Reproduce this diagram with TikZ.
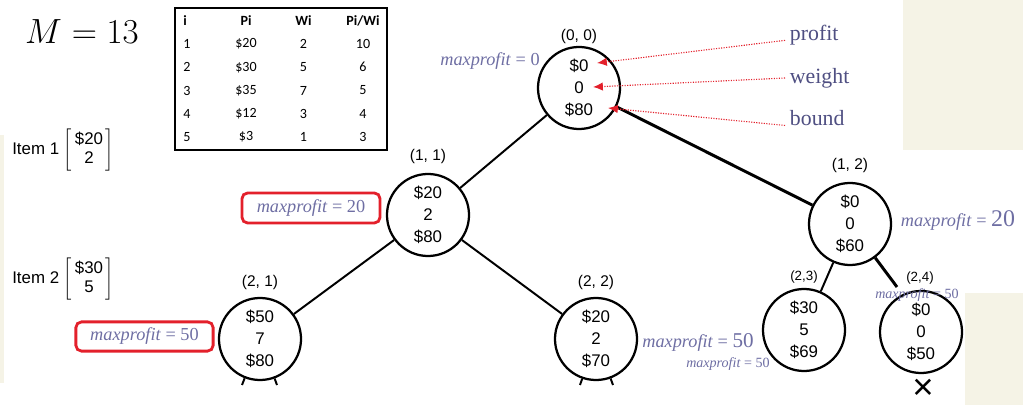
\documentclass[tikz,border=0pt]{standalone}
\usepackage{fontspec}
\setsansfont{Liberation Sans}
\newfontfamily\notefont{Liberation Serif}
\newfontfamily\tablefont{Carlito}
\usetikzlibrary{arrows.meta,positioning}

\definecolor{mpblue}{HTML}{6E6EA3}
\definecolor{tagblue}{HTML}{4F4F82}
\definecolor{boxred}{HTML}{E3202B}
\definecolor{paper}{HTML}{F5F3E6}

\begin{document}
\begin{tikzpicture}[x=0.025cm, y=-0.025cm,
  state/.style={circle, draw, line width=1.6pt, minimum size=2.05cm, inner sep=0pt,
    align=center, font=\sffamily\fontsize{12}{15.5}\selectfont},
  branch/.style={line width=1.4pt},
  heavy/.style={line width=2.1pt},
  coord/.style={font=\sffamily\fontsize{11}{13}\selectfont, inner sep=1pt},
  mp/.style={text=mpblue, font=\notefont\fontsize{13}{15}\selectfont, inner sep=1pt},
  mpsmall/.style={mp, font=\notefont\fontsize{10}{12}\selectfont},
  flagbox/.style={draw=boxred, line width=2pt, rounded corners=4pt},
  tag/.style={text=tagblue, font=\notefont\fontsize{15.5}{18}\selectfont, anchor=west},
  pointer/.style={boxred, densely dotted, line width=0.8pt, -{Latex[length=7pt,width=6pt]}},
  cell/.style={font=\tablefont\fontsize{10}{12}\selectfont, inner sep=0pt},
  itemlbl/.style={font=\sffamily\fontsize{12}{14}\selectfont, anchor=west, inner sep=0pt}
]
\useasboundingbox (0,0) rectangle (1023,405);

% background patches of the slide
\fill[paper] (903,0) rectangle (1023,150);
\fill[paper] (965,293) rectangle (1023,405);
\fill[paper] (0,135) rectangle (4,383);

% capacity and item table
\node (budget) at (82,32) {\fontsize{24}{28}\selectfont $M = 13$};

\node[draw, line width=0.8pt, minimum width=5.3cm, minimum height=3.55cm, inner sep=0pt] (tbl) at (281,79) {};
\node[cell, anchor=west] (h-i) at (183,21) {\bfseries i};
\node[cell] (h-p) at (246,21) {\bfseries Pi};
\node[cell] (h-w) at (303.5,21) {\bfseries Wi};
\node[cell] (h-r) at (363,21) {\bfseries Pi/Wi};
\foreach \i/\p/\w/\r in {1/20/2/10, 2/30/5/6, 3/35/7/5, 4/12/3/4, 5/3/1/3} {
  \node[cell, anchor=west] (i-\i) at (183,{44+23.25*(\i-1)}) {\i};
  \node[cell] (p-\i) at (246,{44+23.25*(\i-1)}) {\$\p};
  \node[cell] (w-\i) at (303.5,{44+23.25*(\i-1)}) {\w};
  \node[cell] (r-\i) at (363,{44+23.25*(\i-1)}) {\r};
}

% item vectors
\node[itemlbl] (item1) at (12,150) {Item 1 $\left[\,\begin{array}{@{}c@{}}\mbox{\$20}\\ \mbox{2}\end{array}\,\right]$};
\node[itemlbl] (item2) at (12,279) {Item 2 $\left[\,\begin{array}{@{}c@{}}\mbox{\$30}\\ \mbox{5}\end{array}\,\right]$};

% state space tree
\node[state] (root) at (579,88)  {\$0\\0\\\$80};
\node[state] (n11)  at (428,215) {\$20\\2\\\$80};
\node[state] (n12)  at (850,224) {\$0\\0\\\$60};
\node[state] (n21)  at (260,339) {\$50\\7\\\$80};
\node[state] (n22)  at (596,339) {\$20\\2\\\$70};
\node[state] (n23)  at (804,330) {\$30\\5\\\$69};
\node[state] (n24)  at (921,332) {\$0\\0\\\$50};

\node[coord, above=0.5pt of root] (root-lbl) {(0, 0)};
\node[coord, above=5pt of n11] (n11-lbl) {(1, 1)};
\node[coord, above=5pt of n12] (n12-lbl) {(1, 2)};
\node[coord, above=4pt of n21] (n21-lbl) {(2, 1)};
\node[coord, above=4pt of n22] (n22-lbl) {(2, 2)};
\node[coord, font=\sffamily\fontsize{9.5}{11}\selectfont, above=2pt of n23] (n23-lbl) {(2,3)};
\node[coord, font=\sffamily\fontsize{9.5}{11}\selectfont] (n24-lbl) at (920,278) {(2,4)};

\coordinate (stop24) at (897,287);
\coordinate (s21a) at (242,385);
\coordinate (s21b) at (277,385);
\coordinate (s22a) at (580,385);
\coordinate (s22b) at (613,385);

\draw[branch] (root) -- (n11);
\draw[heavy]  (root) -- (n12);
\draw[branch] (n11) -- (n21);
\draw[branch] (n11) -- (n22);
\draw[branch] (n12) -- (n23);
\draw[heavy]  (n12) -- (stop24);
\draw[branch] (n21) -- (s21a);
\draw[branch] (n21) -- (s21b);
\draw[branch] (n22) -- (s22a);
\draw[branch] (n22) -- (s22b);

\node[inner sep=0pt, font=\sffamily\fontsize{26}{26}\selectfont] (cut24) at (923,389) {×};

% maxprofit notes
\node[mp] (mp00) at (490,61) {\textit{maxprofit} = 0};
\node[mp, flagbox, minimum width=3.45cm, minimum height=0.75cm] (mp11) at (311,208) {\textit{maxprofit} = 20};
\node[mp, flagbox, minimum width=3.43cm, minimum height=0.73cm] (mp21) at (144.5,336.5) {\textit{maxprofit} = 50};
\node[mp] (mp12) at (958,220) {\textit{maxprofit} = {\fontsize{17}{17}\selectfont 20}};
\node[mp] (mp22) at (698,342) {\textit{maxprofit} = {\fontsize{15}{15}\selectfont 50}};
\node[mpsmall] (mp23) at (728,364) {\textit{maxprofit} = 50};
\node[mpsmall] (mp24) at (917,295) {\textit{maxprofit} = 50};

% field names of a state
\node[tag] (profit) at (785,35)  {profit};
\node[tag] (weight) at (785,78)  {weight};
\node[tag] (bound)  at (785,118) {bound};
\coordinate (at-profit) at (597,63);
\coordinate (at-weight) at (593,87);
\coordinate (at-bound)  at (608,108);
\draw[pointer] (profit.base west) -- (at-profit);
\draw[pointer] (weight.west) -- (at-weight);
\draw[pointer] (bound.base west) -- (at-bound);

\end{tikzpicture}
\end{document}
